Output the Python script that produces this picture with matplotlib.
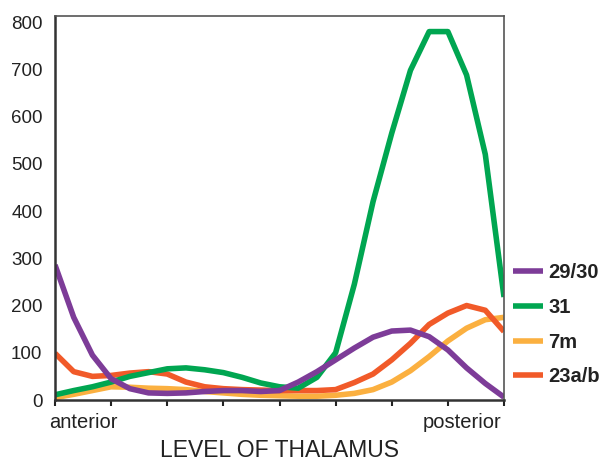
import matplotlib
matplotlib.use("Agg")
import matplotlib.pyplot as plt
import numpy as np

plt.rcParams['font.family'] = ['Liberation Sans', 'DejaVu Sans']

# positions along the thalamus (anterior = 0, posterior = 8), step 1/3
level = [i / 3 for i in range(25)]

s29_30 = [286, 175, 95, 45, 24, 15, 14, 15, 18, 20, 20, 18, 20, 38, 60, 85,
          110, 133, 146, 148, 134, 106, 68, 35, 6]
s31 = [11, 20, 28, 38, 50, 58, 66, 68, 64, 58, 48, 36, 28, 25, 48, 100,
       245, 420, 565, 698, 780, 780, 688, 520, 218]
s7m = [5, 12, 20, 28, 27, 25, 24, 22, 18, 15, 12, 10, 9, 8, 8, 10,
       14, 22, 38, 62, 92, 125, 152, 170, 175]
s23ab = [99, 60, 50, 52, 57, 60, 55, 38, 28, 24, 22, 21, 20, 20, 20, 22,
         37, 55, 85, 120, 160, 184, 200, 190, 145]

labels = ['29/30', '31', '7m', '23a/b']
colors = {'29/30': '#7d3c98', '31': '#00a651', '7m': '#fbb040', '23a/b': '#f15a29'}
yticks = [0, 100, 200, 300, 400, 500, 600, 700, 800]

fig = plt.figure(figsize=(6.02, 4.61), dpi=100)
ax = fig.add_axes([55 / 602, 1 - 400 / 461, 449 / 602, 384 / 461])

series = {'29/30': s29_30, '31': s31, '7m': s7m, '23a/b': s23ab}
lines = {}
for name in ['7m', '23a/b', '31', '29/30']:
    (ln,) = ax.plot(level, series[name], color=colors[name], lw=4,
                    solid_joinstyle='round', solid_capstyle='butt', label=name)
    lines[name] = ln

ax.set_xlim(0, 8)
ax.set_ylim(0, 813)
ax.set_xticks(range(9))
ax.set_xticklabels([])
ax.set_yticks(yticks)
ax.set_yticklabels([str(v) for v in yticks], fontsize=13.5, color='#222222')
ax.tick_params(axis='y', length=0, pad=9)
ax.tick_params(axis='x', length=4, width=1.5, direction='out', color='#222222')

for side in ['left', 'bottom']:
    ax.spines[side].set_linewidth(1.8)
    ax.spines[side].set_color('#333333')
for side in ['top', 'right']:
    ax.spines[side].set_linewidth(1.2)
    ax.spines[side].set_color('#555555')

ax.text(-0.012, -0.035, 'anterior', transform=ax.transAxes, ha='left', va='top',
        fontsize=14.5, color='#222222')
ax.text(0.995, -0.035, 'posterior', transform=ax.transAxes, ha='right', va='top',
        fontsize=14.5, color='#222222')
ax.text(0.5, (400 - 456.5) / 384, 'LEVEL OF THALAMUS', transform=ax.transAxes,
        ha='center', va='baseline', fontsize=16.5, color='#222222')

leg = ax.legend([lines[n] for n in labels], labels, loc='upper left',
                bbox_to_anchor=(1.02, 0.356), frameon=False, borderpad=0,
                borderaxespad=0, handlelength=1.5, handletextpad=0.25,
                labelspacing=0.78, prop={'weight': 'bold', 'size': 14.5})
for t in leg.get_texts():
    t.set_color('#222222')

fig.savefig('out.png', dpi=100)
